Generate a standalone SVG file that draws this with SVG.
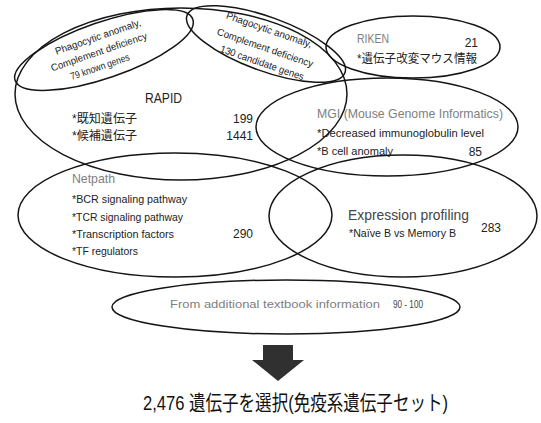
<svg xmlns="http://www.w3.org/2000/svg" width="541" height="423" viewBox="0 0 541 423">
<style>
.e{fill:none;stroke:#151515;stroke-width:1.5}
text{font-family:"Liberation Sans","Noto Sans CJK JP",sans-serif;fill:#222}
.g{fill:#808080}
.s{font-size:11px}
.r{font-size:10px;text-anchor:middle}
.n{font-size:12px;text-anchor:end}
</style>
<rect width="541" height="423" fill="#fff"/>
<g id="rapid">
<ellipse class="e" cx="181" cy="94" rx="166" ry="86"/>
<text x="145" y="103" font-size="14" textLength="37" lengthAdjust="spacingAndGlyphs">RAPID</text>
<text x="72" y="123" font-size="12" textLength="65" lengthAdjust="spacingAndGlyphs">*既知遺伝子</text>
<text class="n" x="253" y="123">199</text>
<text x="72" y="140" font-size="12" textLength="65" lengthAdjust="spacingAndGlyphs">*候補遺伝子</text>
<text class="n" x="253" y="140">1441</text>
</g>
<g id="known-genes">
<ellipse class="e" cx="104" cy="50" rx="94" ry="28" transform="rotate(-19 104 50)"/>
<text class="r" transform="translate(99,40) rotate(-19)" textLength="90" lengthAdjust="spacingAndGlyphs">Phagocytic anomaly,</text>
<text class="r" transform="translate(100,55) rotate(-19)" textLength="101" lengthAdjust="spacingAndGlyphs">Complement deficiency</text>
<text class="r" transform="translate(101,70) rotate(-19)" textLength="62" lengthAdjust="spacingAndGlyphs">79 known genes</text>
</g>
<g id="candidate-genes">
<ellipse class="e" cx="266" cy="44" rx="84" ry="27" transform="rotate(20 266 44)"/>
<text class="r" transform="translate(268,33) rotate(19)" textLength="90" lengthAdjust="spacingAndGlyphs">Phagocytic anomaly,</text>
<text class="r" transform="translate(264,51) rotate(19)" textLength="101" lengthAdjust="spacingAndGlyphs">Complement deficiency</text>
<text class="r" transform="translate(261,66) rotate(19)" textLength="88" lengthAdjust="spacingAndGlyphs">130 candidate genes</text>
</g>
<g id="riken">
<ellipse class="e" cx="413" cy="47" rx="87" ry="31"/>
<text class="g" x="357" y="43" font-size="13" textLength="32" lengthAdjust="spacingAndGlyphs">RIKEN</text>
<text class="n" x="478" y="47">21</text>
<text x="357" y="63" font-size="12" textLength="120" lengthAdjust="spacingAndGlyphs">*遺伝子改変マウス情報</text>
</g>
<g id="mgi">
<ellipse class="e" cx="387" cy="127" rx="131" ry="49"/>
<text class="g" x="317" y="118" font-size="13" textLength="186" lengthAdjust="spacingAndGlyphs">MGI (Mouse Genome Informatics)</text>
<text class="s" x="317" y="137" textLength="167" lengthAdjust="spacingAndGlyphs">*Decreased  immunoglobulin level</text>
<text class="s" x="317" y="155" textLength="76" lengthAdjust="spacingAndGlyphs">*B cell anomaly</text>
<text class="n" x="482" y="156" font-size="11">85</text>
</g>
<g id="netpath">
<ellipse class="e" cx="175" cy="215" rx="157" ry="62"/>
<text class="g" x="72" y="183" font-size="13" textLength="43" lengthAdjust="spacingAndGlyphs">Netpath</text>
<text class="s" x="72" y="203" textLength="115" lengthAdjust="spacingAndGlyphs">*BCR  signaling pathway</text>
<text class="s" x="72" y="221" textLength="111" lengthAdjust="spacingAndGlyphs">*TCR signaling pathway</text>
<text class="s" x="72" y="238" textLength="102" lengthAdjust="spacingAndGlyphs">*Transcription factors</text>
<text class="s" x="72" y="255" textLength="66" lengthAdjust="spacingAndGlyphs">*TF regulators</text>
<text class="n" x="253" y="238">290</text>
</g>
<g id="expression">
<ellipse class="e" cx="403" cy="216" rx="134" ry="61"/>
<text x="348" y="220" font-size="15" style="fill:#444" textLength="121" lengthAdjust="spacingAndGlyphs">Expression profiling</text>
<text class="s" x="349" y="237" textLength="107" lengthAdjust="spacingAndGlyphs">*Naïve B vs Memory B</text>
<text class="n" x="501" y="232">283</text>
</g>
<g id="textbook">
<ellipse class="e" cx="286" cy="307" rx="174" ry="27"/>
<text class="s g" x="170" y="308" textLength="210" lengthAdjust="spacingAndGlyphs">From additional textbook information</text>
<text class="s" x="393" y="308" style="fill:#444" textLength="30" lengthAdjust="spacingAndGlyphs">90 - 100</text>
</g>
<g id="connectors">
<path d="M263 345H293V360H304L278 381L252 360H263Z" fill="#303030"/>
</g>
<g id="result">
<text x="143" y="410" font-size="21" style="fill:#111" textLength="305" lengthAdjust="spacingAndGlyphs">2,476 遺伝子を選択(免疫系遺伝子セット)</text>
</g>
</svg>
